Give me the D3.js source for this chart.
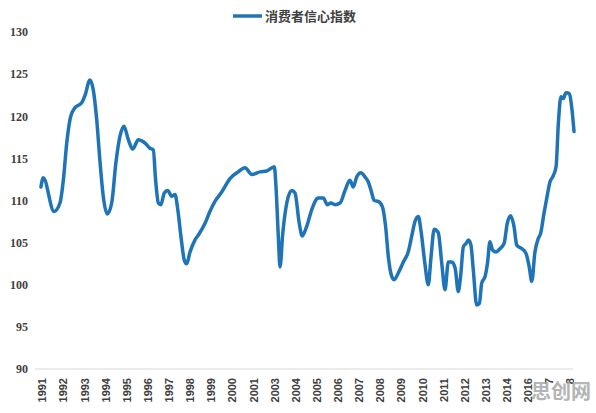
<!DOCTYPE html>
<html>
<head>
<meta charset="utf-8">
<script src="https://cdn.jsdelivr.net/npm/d3@7"></script>
<style>
  body { margin: 0; background: #fff; }
  svg { display: block; }
  .y-axis text { font-family: "Liberation Serif", "DejaVu Serif", serif; font-weight: bold; font-size: 12px; fill: #404040; }
  .x-axis text { font-family: "Liberation Sans", Arial, sans-serif; font-weight: bold; font-size: 11px; fill: #404040; }
  .legend text { font-family: "Noto Sans CJK SC", sans-serif; font-weight: bold; font-size: 13px; fill: #404040; }
</style>
</head>
<body>
<div id="wrapper"></div>
<script>
// tick labels along the category axis (as printed in the chart)
const xLabels = ["1991","1992","1993","1994","1995","1996","1997","1998","1999","2000",
  "2001","2003","2004","2005","2006","2007","2008","2009","2010","2011","2012","2013",
  "2014","2016","7","8"];
const yTicks = [90, 95, 100, 105, 110, 115, 120, 125, 130];

// position along the axis (in tick-label units) and index value
const pos = [-0.05,0.06,0.57,0.85,1.01,1.17,1.36,1.56,1.88,2.04,2.27,2.43,2.59,2.75,2.90,
  3.09,3.30,3.50,3.69,3.88,4.09,4.29,4.56,4.88,5.11,5.27,5.38,5.51,5.63,5.79,5.95,6.14,
  6.30,6.43,6.58,6.74,6.85,7.01,7.24,7.43,7.72,7.95,8.19,8.51,8.90,9.29,9.61,9.93,10.32,
  10.64,11.00,11.08,11.19,11.27,11.40,11.59,11.82,11.98,12.18,12.32,12.53,12.77,13.08,
  13.32,13.51,13.67,13.87,14.11,14.35,14.58,14.74,14.90,15.10,15.29,15.45,15.58,15.73,
  15.92,16.11,16.27,16.40,16.56,16.68,16.87,17.11,17.34,17.50,17.66,17.82,17.94,18.13,
  18.29,18.42,18.57,18.76,18.93,19.08,19.24,19.40,19.56,19.71,19.82,19.95,20.08,20.19,
  20.31,20.42,20.58,20.71,20.82,20.98,21.09,21.21,21.34,21.50,21.69,21.88,22.03,22.19,
  22.35,22.48,22.71,22.92,23.07,23.19,23.34,23.50,23.61,23.77,23.93,24.05,24.18,24.34,
  24.45,24.57,24.68,24.81,24.97,25.08,25.19];
const cci = [111.6,112.7,108.7,109.7,112.4,116.8,120.0,121.0,121.6,122.5,124.3,123.1,119.6,
  114.5,110.5,108.4,109.7,114.5,117.6,118.8,117.2,116.1,117.2,116.8,116.2,116.0,112.4,
  109.7,109.5,110.9,111.2,110.5,110.7,108.9,105.7,102.9,102.5,103.9,105.3,106.0,107.3,
  108.7,109.9,111.0,112.6,113.4,113.9,113.1,113.4,113.5,114.0,111.6,105.7,102.1,106.1,
  109.7,111.2,110.9,107.3,105.8,106.9,108.9,110.3,110.3,109.5,109.7,109.5,109.7,111.2,
  112.4,111.6,112.8,113.3,112.8,112.2,111.2,110.0,109.9,109.3,106.9,103.3,101.0,100.6,
  101.4,102.7,103.9,105.7,107.5,108.1,106.5,102.5,100.0,103.3,106.6,106.2,102.5,99.4,
  102.7,102.7,102.0,99.2,101.0,104.5,104.9,105.3,104.7,101.8,97.6,97.8,100.2,101.0,
  102.5,105.1,104.1,103.9,104.3,104.9,107.3,108.2,106.9,104.7,104.3,103.7,102.1,100.4,
  103.9,105.5,106.1,108.5,110.7,112.2,112.8,114.0,119.2,122.3,122.1,122.8,122.7,121.1,118.2];

const seriesName = "消费者信心指数";

function drawChart() {
  const dataset = pos.map((p, i) => ({ pos: p, value: cci[i] }));

  const dimensions = { width: 596, height: 413 };

  const svg = d3.select("#wrapper")
    .append("svg")
    .attr("width", dimensions.width)
    .attr("height", dimensions.height);

  // scales
  const xScale = d3.scaleLinear()
    .domain([0, xLabels.length - 1])
    .range([42, 570]);

  const yScale = d3.scaleLinear()
    .domain([90, 130])
    .range([369, 32]);

  // baseline
  svg.append("line")
    .attr("x1", xScale(-0.33))
    .attr("x2", xScale(25.15))
    .attr("y1", yScale(90))
    .attr("y2", yScale(90))
    .attr("stroke", "#d9d9d9")
    .attr("stroke-width", 1);

  // y axis (labels only)
  const yAxis = svg.append("g")
    .attr("class", "y-axis")
    .attr("transform", "translate(28,0)")
    .call(d3.axisLeft(yScale).tickValues(yTicks).tickSize(0).tickPadding(0));
  yAxis.select(".domain").remove();

  // x axis (rotated labels)
  const xAxis = svg.append("g")
    .attr("class", "x-axis")
    .attr("transform", `translate(0, ${yScale(90)})`)
    .call(d3.axisBottom(xScale)
      .tickValues(d3.range(xLabels.length))
      .tickFormat(i => xLabels[i])
      .tickSize(0));
  xAxis.select(".domain").remove();
  xAxis.selectAll("text")
    .attr("transform", "rotate(-90)")
    .attr("x", -9)
    .attr("y", 0)
    .attr("dy", "0.35em")
    .style("text-anchor", "end");

  // line
  const lineGenerator = d3.line()
    .x(d => xScale(d.pos))
    .y(d => yScale(d.value))
    .curve(d3.curveMonotoneX);

  svg.append("path")
    .attr("d", lineGenerator(dataset))
    .attr("fill", "none")
    .attr("stroke", "#1f74b8")
    .attr("stroke-width", 3.5)
    .attr("stroke-linejoin", "round")
    .attr("stroke-linecap", "round");

  // legend
  const legend = svg.append("g").attr("class", "legend");
  legend.append("line")
    .attr("x1", 233).attr("x2", 262)
    .attr("y1", 16).attr("y2", 16)
    .attr("stroke", "#1f74b8")
    .attr("stroke-width", 3.5);
  legend.append("text")
    .attr("x", 265)
    .attr("y", 16)
    .attr("dy", "0.35em")
    .text(seriesName);

  // site watermark
  svg.append("text")
    .attr("x", 591)
    .attr("y", 399)
    .attr("text-anchor", "end")
    .style("font-family", "Noto Sans CJK SC, sans-serif")
    .style("font-weight", "bold")
    .style("font-size", "20px")
    .attr("fill", "#a8a8a8")
    .attr("opacity", 0.85)
    .text("思创网");
}

drawChart();
</script>
</body>
</html>
